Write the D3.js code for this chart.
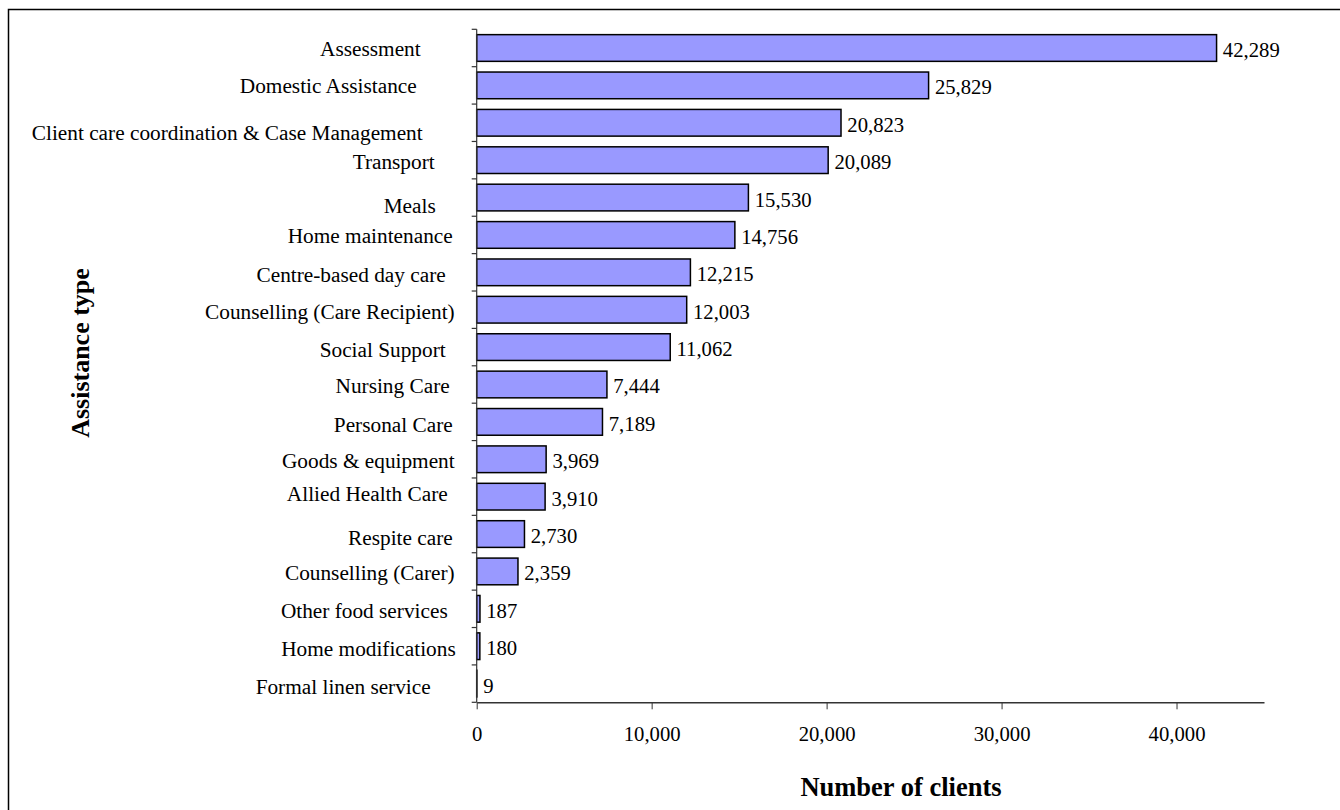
<!DOCTYPE html>
<html>
<head>
<meta charset="utf-8">
<script src="https://cdn.jsdelivr.net/npm/d3@7"></script>
<style>
  html, body { margin: 0; padding: 0; background: #fff; }
  svg { display: block; }
  text { font-family: "Liberation Serif", "Times New Roman", serif; fill: #000; }
</style>
</head>
<body>
<svg id="chart" width="1340" height="810"></svg>
<script>
// ---- Data ----
const categories = [
  "Assessment", "Domestic Assistance", "Client care coordination & Case Management",
  "Transport", "Meals", "Home maintenance", "Centre-based day care",
  "Counselling (Care Recipient)", "Social Support", "Nursing Care", "Personal Care",
  "Goods & equipment", "Allied Health Care", "Respite care", "Counselling (Carer)",
  "Other food services", "Home modifications", "Formal linen service"
];
const clients = [42289, 25829, 20823, 20089, 15530, 14756, 12215, 12003, 11062,
  7444, 7189, 3969, 3910, 2730, 2359, 187, 180, 9];
const xTicks = [0, 10000, 20000, 30000, 40000];
const xTitle = "Number of clients";
const yTitle = "Assistance type";

// ---- Layout (label placement tweaks, px) ----
const labelGap = [56, 60, 54, 42, 41, 24, 31, 22, 31, 27, 24, 22, 29, 24, 22, 29, 21, 46];
const labelDy  = [1, 1, 10, 1.5, 8, 1.5, 2.5, 2, 3, 1.5, 3, 2, -3, 3.5, 1.5, 2, 2.5, 3];

const svg = d3.select("#chart");
const plot = { left: 476.7, right: 1264, top: 29.3, bottom: 702.3 };
const axisColor = "#333";

// Frame (top and left edges visible)
svg.append("rect")
  .attr("x", 8.5).attr("y", 9.5)
  .attr("width", 1400).attr("height", 900)
  .attr("fill", "none").attr("stroke", "#000").attr("stroke-width", 1.5);

const x = d3.scaleLinear().domain([0, 45000]).range([plot.left, plot.right]);
const y = d3.scaleBand().domain(categories).range([plot.top, plot.bottom])
  .paddingInner(0.286).paddingOuter(0.143);

const data = categories.map((c, i) => ({ c, v: clients[i], i }));

// Bars
svg.append("g").selectAll("rect").data(data).join("rect")
  .attr("x", x(0))
  .attr("y", d => y(d.c))
  .attr("width", d => x(d.v) - x(0))
  .attr("height", y.bandwidth())
  .attr("fill", "#9999FF")
  .attr("stroke", "#000")
  .attr("stroke-width", 1.5);

// Value labels
svg.append("g").selectAll("text").data(data).join("text")
  .attr("x", d => x(d.v) + 6.3)
  .attr("y", d => y(d.c) + y.bandwidth() / 2 + 2)
  .attr("dominant-baseline", "central")
  .attr("font-size", "20.7px")
  .text(d => d3.format(",")(d.v));

// X axis
const xAxis = svg.append("g")
  .attr("transform", `translate(0,${plot.bottom})`)
  .call(d3.axisBottom(x).tickValues(xTicks).tickSize(7).tickSizeOuter(0).tickFormat(d3.format(",")));
xAxis.select(".domain").attr("stroke", axisColor).attr("stroke-width", 1.4);
xAxis.selectAll(".tick line").attr("stroke", axisColor).attr("stroke-width", 1);
xAxis.selectAll(".tick text")
  .attr("y", 38.7).attr("dy", 0)
  .attr("font-family", "Liberation Serif, Times New Roman, serif")
  .attr("font-size", "20.7px").attr("fill", "#000");

// Y axis: line and ticks at band boundaries
const yAxis = svg.append("g");
yAxis.append("line")
  .attr("x1", plot.left).attr("x2", plot.left)
  .attr("y1", plot.top).attr("y2", plot.bottom)
  .attr("stroke", axisColor).attr("stroke-width", 1.2);
const boundaries = d3.range(categories.length + 1).map(i => plot.top + i * y.step());
yAxis.selectAll(".ytick").data(boundaries).join("line")
  .attr("class", "ytick")
  .attr("x1", plot.left - 5).attr("x2", plot.left)
  .attr("y1", d => d).attr("y2", d => d)
  .attr("stroke", axisColor).attr("stroke-width", 1.2);

// Category labels
yAxis.selectAll(".ylab").data(data).join("text")
  .attr("class", "ylab")
  .attr("x", d => plot.left - labelGap[d.i])
  .attr("y", d => y(d.c) + y.bandwidth() / 2 + labelDy[d.i])
  .attr("text-anchor", "end")
  .attr("dominant-baseline", "central")
  .attr("font-size", "21.3px")
  .text(d => d.c);

// Titles
svg.append("text")
  .attr("x", 901).attr("y", 796)
  .attr("text-anchor", "middle")
  .attr("font-size", "26.5px").attr("font-weight", "bold")
  .text(xTitle);

svg.append("text")
  .attr("transform", "translate(89,353) rotate(-90)")
  .attr("text-anchor", "middle")
  .attr("font-size", "26px").attr("font-weight", "bold")
  .text(yTitle);
</script>
</body>
</html>
